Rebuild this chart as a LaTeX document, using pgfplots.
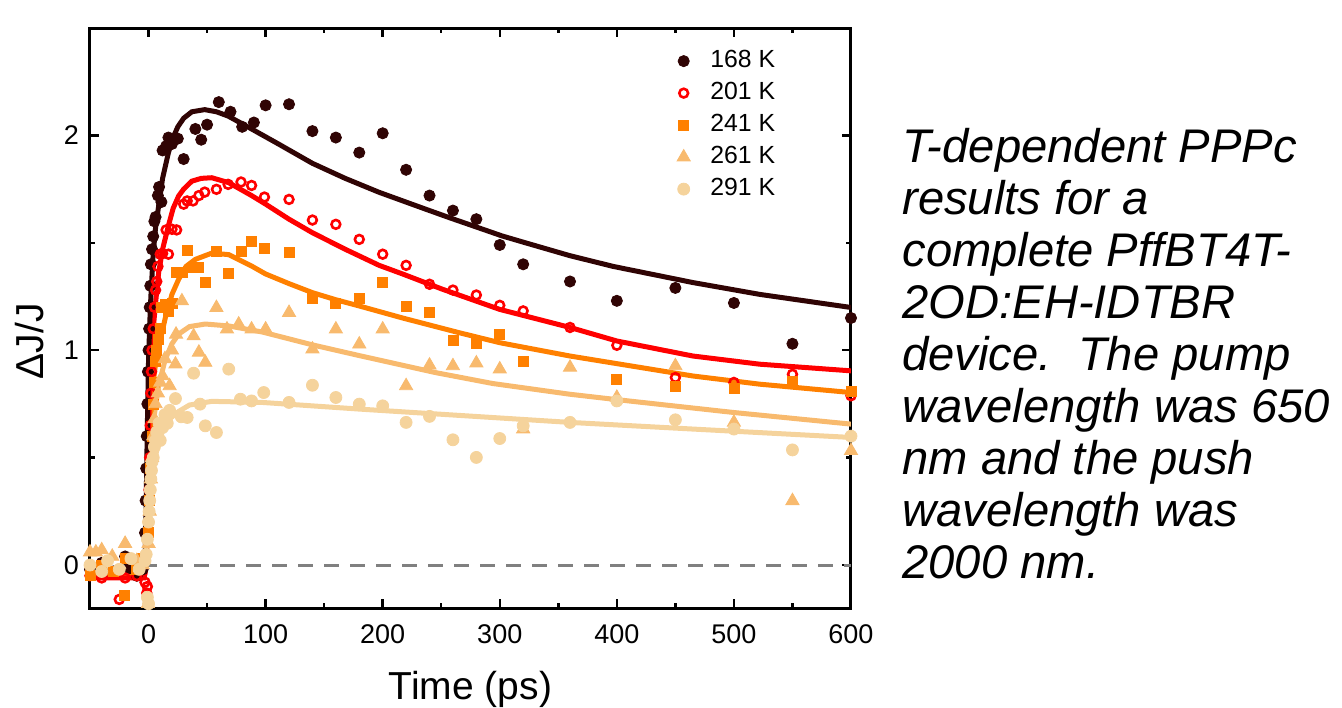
\documentclass[border=0pt]{standalone}
\usepackage{fontspec}
\setmainfont{Liberation Sans}
\usepackage{pgfplots}
\pgfplotsset{compat=1.18}

\definecolor{c168}{RGB}{48,4,4}
\definecolor{c201}{RGB}{255,0,0}
\definecolor{c241}{RGB}{255,128,0}
\definecolor{c261}{RGB}{248,186,110}
\definecolor{c291}{RGB}{245,211,156}

\begin{document}
\begin{tikzpicture}
\path[use as bounding box] (-45pt,-49.5pt) rectangle (626pt,304pt);
\begin{axis}[
  scale only axis, width=380.5pt, height=290pt,
  xmin=-50, xmax=600, ymin=-0.2, ymax=2.5,
  xtick={0,100,...,600}, ytick={0,1,2},
  minor x tick num=1, minor y tick num=1,
  tick align=inside,
  major tick length=4.5pt, minor tick length=2.5pt,
  axis line style={line width=1.5pt},
  every tick/.style={black, line width=1.2pt},
  /pgf/number format/assume math mode=true,
  ticklabel style={font=\fontsize{13.5}{14}\selectfont},
  xticklabel style={yshift=-5pt},
  yticklabel style={xshift=-2pt},
  xlabel={Time (ps)}, ylabel={ΔJ/J},
  label style={font=\fontsize{19.5}{20}\selectfont},
  xlabel style={yshift=-6.5pt},
  ylabel style={at={(axis description cs:-0.079,0.46)}, anchor=center},
  legend style={draw=none, fill=none, at={(axis description cs:0.771,0.966)}, anchor=north west,
    inner sep=0pt, column sep=9pt, row sep=3pt,
    font=\fontsize{12.4}{13}\selectfont,
    nodes={inner sep=1pt, text height=8.5pt, text depth=2.5pt}},
  legend cell align=left,
]
\addplot[gray, line width=1.5pt, dash pattern=on 7.5pt off 5.5pt, forget plot] coordinates {(-50,0) (600,0)};

% fits
\addplot[c291, line width=2.5pt, forget plot] coordinates {
(-50,-0.02) (-4,-0.02) (-2,0.0) (-1,0.1) (0,0.25) (2,0.38) (4.3,0.462) (8,0.56) (11.4,0.617) (18,0.68) (25.7,0.715) (35,0.745) (54,0.762) (97,0.757) (180,0.726) (360,0.664) (465,0.633) (600,0.594)};
\addplot[c261, line width=2.5pt, forget plot] coordinates {
(-50,-0.03) (-4,-0.03) (-2,0.0) (-1,0.15) (0,0.35) (2.9,0.6) (5,0.7) (8.6,0.834) (14.3,0.958) (20,1.03) (25.7,1.075) (35,1.11) (48.5,1.122) (68.5,1.113) (97,1.085) (140,1.025) (160,1.0) (180,0.975) (245,0.896) (294,0.845) (360,0.795) (400,0.77) (500,0.71) (600,0.656)};
\addplot[c241, line width=2.5pt, forget plot] coordinates {
(-50,-0.04) (-4,-0.04) (-3,-0.03) (-2,0.05) (-1,0.25) (0,0.45) (2,0.7) (4,0.85) (7,0.98) (11.4,1.08) (14.3,1.15) (20,1.26) (25.7,1.33) (32,1.39) (40,1.423) (54,1.452) (68.5,1.445) (88,1.392) (100,1.355) (120,1.31) (140,1.268) (160,1.235) (180,1.206) (217,1.15) (265,1.082) (300,1.035) (360,0.973) (465,0.88) (522,0.842) (600,0.803)};
\addplot[c201, line width=2.5pt, forget plot] coordinates {
(-50,-0.06) (-4,-0.06) (-3,-0.04) (-2,0.1) (-1,0.35) (0,0.6) (1,0.8) (2,0.95) (4,1.1) (6,1.22) (8.6,1.36) (12,1.47) (17,1.58) (21,1.66) (25.7,1.718) (30,1.75) (37,1.787) (45,1.8) (54,1.803) (68.5,1.78) (88,1.72) (100,1.68) (120,1.61) (140,1.547) (168,1.47) (197,1.395) (217,1.355) (251,1.284) (300,1.19) (360,1.106) (400,1.043) (465,0.973) (522,0.935) (600,0.904)};
\addplot[c168, line width=2.5pt, forget plot] coordinates {
(-50,-0.03) (-4,-0.03) (-3,0.0) (-2,0.3) (-1,0.65) (0,0.95) (1,1.12) (2,1.25) (4,1.45) (6,1.57) (8.6,1.67) (12,1.8) (17,1.92) (21,1.99) (25,2.04) (30,2.08) (37,2.11) (48,2.12) (58,2.11) (68,2.09) (88,2.03) (111,1.96) (140,1.87) (168,1.80) (197,1.735) (237,1.656) (257,1.617) (302,1.532) (322,1.50) (360,1.44) (397,1.39) (465,1.315) (522,1.26) (600,1.199)};

% data
\addplot[only marks, mark=*, mark size=2.8pt, color=c168] coordinates {
(-50,-0.02) (-40,0.01) (-30,-0.03) (-20,0.04) (-17,0.02) (-15,0.0) (-10,-0.05) (-5,-0.02)
(-3,0.15) (-2.5,0.3) (-2,0.45) (-1.5,0.6) (-1,0.75) (-0.5,0.9) (0,1.0) (0.5,1.1) (1,1.2) (1.5,1.3) (2,1.4) (3,1.47) (4,1.53) (5,1.6) (6,1.62) (8,1.72) (9,1.76) (11,1.69) (12,1.93) (15,1.95) (17,1.99) (20,1.96) (25,1.985) (30,1.89) (40,2.03) (45,1.98) (50,2.05) (60,2.155) (70,2.11) (80,2.04) (90,2.06) (100,2.14) (120,2.145) (140,2.02) (160,1.99) (180,1.92) (200,2.01) (220,1.84) (240,1.72) (260,1.65) (280,1.61) (300,1.49) (320,1.40) (360,1.32) (400,1.23) (450,1.29) (500,1.22) (550,1.03) (600,1.15)};
\addlegendentry{168 K}
\addplot[only marks, mark=o, mark size=2.2pt, color=c201, mark options={line width=1.3pt}] coordinates {
(-50,-0.05) (-40,-0.06) (-30,-0.04) (-25,-0.16) (-20,-0.06) (-10,-0.05) (-3,-0.08) (-1.5,-0.13) (-1,-0.1)
(0,0.2) (0.5,0.35) (1,0.5) (1.5,0.65) (2,0.8) (2.5,0.9) (3,1.0) (4,1.1) (5,1.2) (6,1.28) (7,1.32) (8,1.39) (10,1.447) (12,1.45) (15,1.56) (17,1.447) (20,1.563) (24,1.56) (30,1.68) (33,1.695) (38,1.695) (43,1.72) (48,1.736) (58,1.749) (68,1.772) (79,1.783) (88,1.767) (99,1.713) (120,1.702) (140,1.606) (160,1.586) (180,1.516) (200,1.447) (220,1.395) (240,1.307) (260,1.28) (280,1.257) (300,1.209) (320,1.183) (360,1.106) (400,1.023) (450,0.873) (500,0.85) (550,0.888) (600,0.788)};
\addlegendentry{201 K}
\addplot[only marks, mark=square*, mark size=2.5pt, color=c241] coordinates {
(-50,-0.05) (-40,0.0) (-30,-0.03) (-21,-0.14) (-20,0.03) (-10,-0.02) (-5,0.03)
(0,0.15) (1,0.3) (2,0.45) (3,0.6) (4,0.75) (5,0.85) (6,0.95) (7,1.0) (8,1.05) (10,1.1) (11.4,1.2) (14.3,1.214) (17,1.18) (20,1.22) (24,1.361) (28.5,1.363) (33,1.467) (38,1.385) (43,1.385) (48.5,1.318) (58,1.459) (68.5,1.356) (79,1.459) (88,1.508) (99,1.473) (120,1.457) (140,1.242) (160,1.217) (180,1.242) (200,1.315) (220,1.206) (240,1.175) (260,1.047) (280,1.033) (300,1.074) (320,0.946) (400,0.865) (450,0.831) (500,0.822) (550,0.857) (600,0.81)};
\addlegendentry{241 K}
\addplot[only marks, mark=triangle*, mark size=3.8pt, color=c261] coordinates {
(-50,0.06) (-45,0.06) (-40,0.07) (-31,0.04) (-20,0.1) (-10,0.02) (-5,0.0) (-0.5,-0.18)
(0,0.1) (1,0.25) (2,0.4) (3,0.5) (4,0.6) (5,0.68) (6,0.75) (8,0.8) (10,0.85) (12,0.88) (14,0.96) (18,0.834) (20,1.0) (23,0.935) (23.5,1.074) (28.5,1.229) (38.5,1.066) (43,0.99) (48.5,0.943) (58,1.198) (67,1.098) (77,1.121) (88,1.098) (100,1.098) (120,1.175) (140,1.005) (160,1.098) (180,1.028) (200,1.098) (220,0.834) (240,0.93) (260,0.927) (280,0.94) (300,0.912) (320,0.633) (360,0.92) (400,0.78) (450,0.927) (500,0.664) (550,0.299) (600,0.532)};
\addlegendentry{261 K}
\addplot[only marks, mark=*, mark size=3pt, color=c291] coordinates {
(-50,0.0) (-40,-0.03) (-35,0.02) (-25,-0.02) (-15,0.03) (-8,-0.02) (-3,0.02) (-1,-0.15) (0,-0.18)
(-2,0.05) (-1,0.12) (0,0.2) (0.5,0.25) (1,0.3) (1.5,0.35) (2,0.4) (2.5,0.44) (3,0.48) (4,0.5) (5,0.55) (6,0.58) (7,0.62) (8,0.6) (9,0.66) (10,0.58) (12,0.64) (14,0.7) (16,0.66) (18,0.72) (23,0.775) (28,0.69) (33,0.687) (38.5,0.893) (44,0.749) (48.5,0.648) (58,0.617) (68.5,0.912) (78.5,0.772) (88,0.764) (98.4,0.803) (120,0.757) (140,0.837) (160,0.78) (180,0.749) (200,0.741) (220,0.664) (240,0.692) (260,0.583) (280,0.501) (300,0.589) (320,0.648) (360,0.664) (400,0.764) (450,0.676) (500,0.633) (550,0.536) (600,0.6)};
\addlegendentry{291 K}
\end{axis}
\node[anchor=north west, inner sep=0pt, align=left, font=\fontsize{23.6}{26}\selectfont\itshape] at (406pt,240pt)
{T-dependent PPPc\\results for a\\complete PffBT4T-\\2OD:EH-IDTBR\\device.\ \ The pump\\wavelength was 650\\nm and the push\\wavelength was\\2000 nm.};
\end{tikzpicture}
\end{document}
